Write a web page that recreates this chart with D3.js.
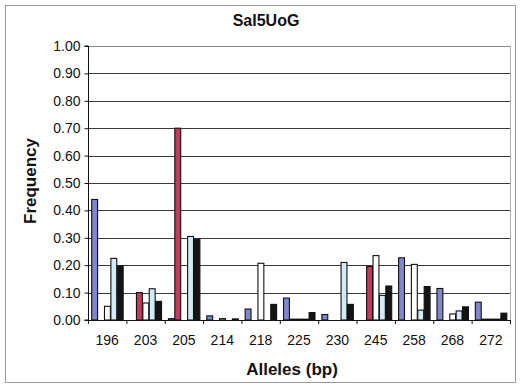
<!DOCTYPE html>
<html>
<head>
<meta charset="utf-8">
<script src="https://cdn.jsdelivr.net/npm/d3@7"></script>
<style>
  html, body { margin: 0; padding: 0; background: #fff; }
  svg { display: block; }
  text { font-family: "Liberation Sans", Arial, sans-serif; fill: #111; }
</style>
</head>
<body>
<svg id="chart" width="522" height="386"></svg>
<script>
// Allele sizes (bp) on the x axis
const alleles = ["196","203","205","214","218","225","230","245","258","268","272"];
// Allele frequency per population
const popBlue  = [0.44, 0.00, 0.005, 0.015, 0.04, 0.08, 0.02, 0.00, 0.227, 0.115, 0.065];
const popRed   = [0.00, 0.10, 0.70, 0.00, 0.00, 0.003, 0.00, 0.195, 0.00, 0.00, 0.003];
const popWhite = [0.05, 0.062, 0.00, 0.005, 0.207, 0.003, 0.00, 0.235, 0.203, 0.022, 0.003];
const popCyan  = [0.225, 0.114, 0.305, 0.00, 0.00, 0.003, 0.21, 0.09, 0.036, 0.033, 0.003];
const popBlack = [0.197, 0.068, 0.295, 0.004, 0.057, 0.027, 0.057, 0.124, 0.122, 0.048, 0.025];
const yTicks = [0,0.1,0.2,0.3,0.4,0.5,0.6,0.7,0.8,0.9,1.0];

const series = [
  {key: "p1", values: popBlue,  color: "#7f86c9"},
  {key: "p2", values: popRed,   color: "#c23a5c"},
  {key: "p3", values: popWhite, color: "#ffffff"},
  {key: "p4", values: popCyan,  color: "#d3ebf6"},
  {key: "p5", values: popBlack, color: "#141414"}
];

const svg = d3.select("#chart");
const plotL = 88, plotR = 510, plotT = 46, plotB = 320;

// outer frame
svg.append("rect").attr("x", 5.5).attr("y", 5.5).attr("width", 510).attr("height", 377)
  .attr("fill", "none").attr("stroke", "#9a9a9a").attr("stroke-width", 1);

const x = d3.scaleBand().domain(alleles).range([plotL, plotR]).padding(0);
const xs = d3.scaleBand().domain(series.map(s => s.key)).range([0, x.bandwidth()])
  .paddingInner(0).paddingOuter(0.5);
const y = d3.scaleLinear().domain([0, 1]).range([plotB, plotT]);

// gridlines
svg.append("g").selectAll("line").data(yTicks.slice(1)).join("line")
  .attr("x1", plotL).attr("x2", plotR)
  .attr("y1", d => Math.round(y(d)) + 0.5).attr("y2", d => Math.round(y(d)) + 0.5)
  .attr("stroke", d => d === 1 ? "#8a8a8a" : "#3a3a3a").attr("stroke-width", 1);

// right border of plot area
svg.append("line").attr("x1", plotR + 0.5).attr("x2", plotR + 0.5)
  .attr("y1", plotT).attr("y2", plotB).attr("stroke", "#b0b0b0");

// bars
const groups = svg.append("g").selectAll("g").data(alleles).join("g")
  .attr("transform", d => `translate(${x(d)},0)`);
groups.selectAll("rect").data((d, i) => series.map(s => ({key: s.key, v: s.values[i], color: s.color})))
  .join("rect")
  .attr("x", d => xs(d.key) + 0.5)
  .attr("width", xs.bandwidth() - 0.5)
  .attr("y", d => y(d.v))
  .attr("height", d => y(0) - y(d.v))
  .attr("fill", d => d.color)
  .attr("stroke", "#111").attr("stroke-width", 1.1);

// y axis
const yAxis = d3.axisLeft(y).tickValues(yTicks).tickFormat(d3.format(".2f")).tickSize(4).tickPadding(4);
const gy = svg.append("g").attr("transform", `translate(${plotL + 0.5},0)`).call(yAxis);
gy.select(".domain").attr("stroke", "#111").attr("d", `M-4,${y(1)}H0V${y(0)}H-4`);
gy.selectAll(".tick line").attr("stroke", "#111");
gy.selectAll("text").attr("font-size", 14).attr("fill", "#111")
  .style("font-family", "'Liberation Sans', Arial, sans-serif");

// x axis
const xAxis = d3.axisBottom(x).tickSize(0).tickPadding(15);
const gx = svg.append("g").attr("transform", `translate(0,${plotB + 0.5})`).call(xAxis);
gx.select(".domain").attr("stroke", "#111").attr("d", `M${plotL},0H${plotR}`);
gx.selectAll("text").attr("font-size", 14).attr("fill", "#111")
  .style("font-family", "'Liberation Sans', Arial, sans-serif");
// category separators below the axis
svg.append("g").selectAll("line").data(d3.range(alleles.length + 1)).join("line")
  .attr("x1", i => plotL + i * x.step() + 0.5).attr("x2", i => plotL + i * x.step() + 0.5)
  .attr("y1", plotB).attr("y2", plotB + 4).attr("stroke", "#111");

// titles
svg.append("text").attr("x", 266).attr("y", 26).attr("text-anchor", "middle")
  .attr("font-size", 16).attr("font-weight", "bold").text("Sal5UoG");
svg.append("text").attr("x", 292).attr("y", 375).attr("text-anchor", "middle")
  .attr("font-size", 17).attr("font-weight", "bold").text("Alleles (bp)");
svg.append("text").attr("transform", "translate(36,181) rotate(-90)").attr("text-anchor", "middle")
  .attr("font-size", 17).attr("font-weight", "bold").text("Frequency");
</script>
</body>
</html>
